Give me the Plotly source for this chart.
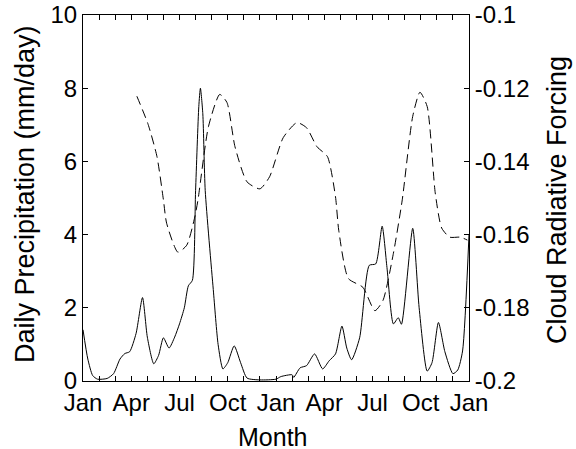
import plotly.graph_objects as go

# Precipitation (solid), months from first January (0) to the January two years later (24)
precip_month = [0.0, 0.3, 0.6, 0.9, 1.5, 1.9, 2.3, 2.6, 2.9, 3.3, 3.7, 4.0, 4.4, 4.7, 5.0, 5.35,
                5.7, 6.0, 6.3, 6.55, 6.8, 7.0, 7.2, 7.3, 7.45, 7.6, 8.1, 8.4, 8.7, 9.0, 9.4, 9.8,
                10.2, 11.0, 12.0, 12.3, 13.0, 13.1, 13.5, 13.9, 14.4, 14.9, 15.3, 15.7, 16.1, 16.4,
                16.7, 17.2, 17.8, 18.2, 18.6, 18.9, 19.3, 19.6, 19.8, 20.5, 20.9, 21.4, 21.7, 22.1,
                22.5, 23.0, 23.3, 23.6, 24.0]
precip_value = [1.4, 0.6, 0.15, 0.05, 0.07, 0.2, 0.6, 0.75, 0.8, 1.3, 2.28, 1.2, 0.47, 0.7, 1.18, 0.9,
                1.2, 1.56, 2.0, 2.6, 2.75, 5.2, 7.5, 8.0, 7.3, 5.2, 2.5, 1.0, 0.33, 0.5, 0.96, 0.5,
                0.08, 0.03, 0.05, 0.12, 0.17, 0.1, 0.36, 0.42, 0.74, 0.33, 0.55, 0.74, 1.5, 0.9,
                0.58, 1.18, 3.16, 3.2, 4.23, 3.1, 1.56, 1.73, 1.55, 4.17, 2.0, 0.27, 0.5, 1.6,
                0.8, 0.2, 0.3, 0.82, 4.0]

# Cloud radiative forcing (dashed)
crf_month = [3.35, 4.05, 4.6, 5.0, 5.2, 5.9, 6.45, 6.95, 7.15, 7.8, 8.5, 8.95, 9.45, 10.2, 11.0,
             11.6, 12.45, 13.3, 13.9, 14.55, 15.2, 15.7, 15.9, 16.5, 17.4, 18.15, 18.65, 19.3,
             19.85, 20.5, 20.95, 21.4, 21.9, 22.3, 22.8, 23.45, 23.9]
crf_value = [-0.1222, -0.1299, -0.1387, -0.1505, -0.1569, -0.1648, -0.1629, -0.1552, -0.1505,
             -0.1305, -0.1217, -0.1239, -0.136, -0.1456, -0.1475, -0.1442, -0.1335, -0.1294,
             -0.1308, -0.136, -0.1387, -0.1497, -0.1588, -0.172, -0.1744, -0.1808, -0.178,
             -0.1651, -0.1505, -0.1277, -0.1211, -0.125, -0.1486, -0.1582, -0.1607, -0.1607,
             -0.1615]

month_ticks = list(range(0, 25))
month_names = ["Jan", "Apr", "Jul", "Oct"]
month_labels = [month_names[(m // 3) % 4] if m % 3 == 0 else "" for m in month_ticks]

left_ticks = [0, 2, 4, 6, 8, 10]
right_ticks = [-0.2, -0.18, -0.16, -0.14, -0.12, -0.1]
right_labels = ["-0.2", "-0.18", "-0.16", "-0.14", "-0.12", "-0.1"]

FONT = "Liberation Sans, Arial, sans-serif"
TICK_SIZE = 24
TITLE_SIZE = 27

fig = go.Figure()
fig.add_trace(go.Scatter(x=precip_month, y=precip_value, mode="lines",
                         line=dict(color="black", width=1, shape="spline", smoothing=0.6),
                         showlegend=False))
fig.add_trace(go.Scatter(x=crf_month, y=crf_value, mode="lines", yaxis="y2",
                         line=dict(color="black", width=1, dash="9px,5px", shape="spline", smoothing=0.6),
                         showlegend=False))

axis_common = dict(ticks="inside", ticklen=5, tickcolor="black", showline=True,
                   linecolor="black", linewidth=1, showgrid=False, zeroline=False,
                   automargin=False, tickfont=dict(size=TICK_SIZE),
                   ticklabeloverflow="allow")

fig.update_layout(
    width=576, height=449,
    margin=dict(l=83, r=107, t=15, b=68),
    paper_bgcolor="white", plot_bgcolor="white",
    font=dict(family=FONT, size=TICK_SIZE, color="black"),
    xaxis=dict(range=[0, 24], tickvals=month_ticks, ticktext=month_labels, mirror="ticks",
               tickangle=0, **axis_common),
    yaxis=dict(range=[0, 10], tickvals=left_ticks, **axis_common),
    yaxis2=dict(range=[-0.2, -0.1], tickvals=right_ticks, ticktext=right_labels,
                overlaying="y", side="right", **axis_common),
    annotations=[
        dict(text="Month", xref="paper", yref="paper", x=0.49, y=-0.152,
             xanchor="center", yanchor="middle", showarrow=False,
             font=dict(size=25)),
        dict(text="Daily Precipitation (mm/day)", xref="paper", yref="paper", x=-0.150, y=0.511,
             xanchor="center", yanchor="middle", textangle=-90, showarrow=False,
             font=dict(size=TITLE_SIZE)),
        dict(text="Cloud Radiative Forcing", xref="paper", yref="paper", x=1.228, y=0.4945,
             xanchor="center", yanchor="middle", textangle=-90, showarrow=False,
             font=dict(size=TITLE_SIZE)),
    ],
)

# remove the default page margin so the figure sits at the window's top-left corner
fig.write_html("out.html", config={"displayModeBar": False},
               post_script="document.body.style.margin='0px';document.body.style.overflow='hidden';")
